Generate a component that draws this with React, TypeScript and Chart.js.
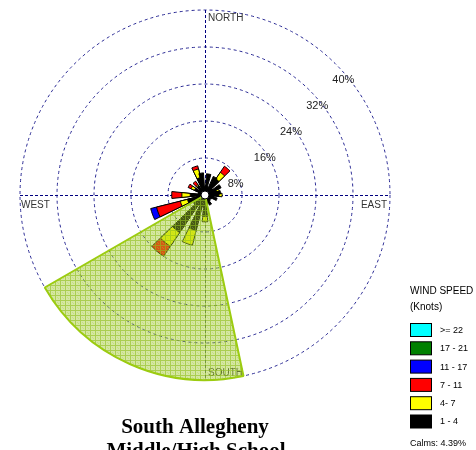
import React, { useEffect, useRef } from 'react';
import { Chart, registerables } from 'chart.js';

Chart.register(...registerables);

// Direction bins (degrees, clockwise from north), 10-degree bins
const directions = [0, 10, 20, 30, 40, 50, 60, 70, 80, 90, 100, 110, 120, 130, 140, 150, 160, 170,
  180, 190, 200, 210, 220, 230, 240, 250, 260, 270, 280, 290, 300, 310, 320, 330, 340, 350];

// Percent of time per speed class and direction
const speed1to4 = [1.8, 4.6, 1.8, 4.4, 4.2, 2.0, 3.8, 2.6, 3.4, 3.0, 2.0, 2.7, 1.6, 1.4, 1.6, 2.4, 1.8, 2.2,
  4.6, 2.5, 7.9, 2.5, 9.8, 3.0, 2.2, 3.9, 1.8, 3.2, 1.5, 1.5, 2.5, 1.5, 2.4, 1.5, 3.9, 4.8];
const speed4to7 = [0, 0, 0, 0, 1.7, 0, 0, 0.6, 0, 0.7, 0, 0, 0, 0, 0, 0, 0, 0,
  1.2, 0, 3.3, 0, 3.6, 0, 0, 1.6, 0, 1.8, 0, 0, 0.8, 0, 0.3, 0, 1.9, 0];
const speed7to11 = [0, 0, 0, 0, 1.6, 0, 0, 0, 0, 0, 0, 0, 0, 0, 0, 0, 0, 0,
  0, 0, 0, 0, 2.6, 0, 0, 5.3, 0, 2.2, 0, 0, 0.7, 0, 0.9, 0, 0.7, 0];
const speed11to17 = [0, 0, 0, 0, 0, 0, 0, 0, 0, 0, 0, 0, 0, 0, 0, 0, 0, 0,
  0, 0, 0, 0, 0, 0, 0, 1.3, 0, 0, 0, 0, 0, 0, 0, 0, 0, 0];
const speed17to21 = [0, 0, 0, 0, 0, 0, 0, 0, 0, 0, 0, 0, 0, 0, 0, 0, 0, 0,
  0, 0, 0, 0, 0, 0, 0, 0, 0, 0, 0, 0, 0, 0, 0, 0, 0, 0];
const speed22plus = [0, 0, 0, 0, 0, 0, 0, 0, 0, 0, 0, 0, 0, 0, 0, 0, 0, 0,
  0, 0, 0, 0, 0, 0, 0, 0, 0, 0, 0, 0, 0, 0, 0, 0, 0, 0];

const speedLabels = ['>= 22', '17 - 21', '11 - 17', '7 - 11', '4- 7', '1 - 4'];
const speedColors = ['#00ffff', '#008000', '#0000ff', '#ff0000', '#ffff00', '#000000'];

const ringTicks = [8, 16, 24, 32, 40];
const compassLabels = ['NORTH', 'EAST', 'SOUTH', 'WEST'];

// highlighted sector (degrees from north) and its reach (percent)
const highlightFrom = 168;
const highlightTo = 240;
const highlightReach = 40;

const calmsText = 'Calms: 4.39%';
const titleLines = ['South Allegheny', 'Middle/High School'];

const STEP = 10;      // bin spacing in degrees
const PETAL = 12;     // drawn petal width in degrees
const START = -PETAL / 2;
const SANS = '"Liberation Sans", Arial, sans-serif';

export default function App() {
  const ref = useRef<HTMLCanvasElement | null>(null);

  useEffect(() => {
    const canvas = ref.current;
    if (!canvas) return;
    const ctx = canvas.getContext('2d')!;

    // hatch pattern for the highlighted sector
    const pc = document.createElement('canvas');
    pc.width = 5;
    pc.height = 5;
    const p = pc.getContext('2d')!;
    p.fillStyle = 'rgba(160,200,45,0.44)';
    p.fillRect(0, 0, 5, 5);
    p.fillStyle = 'rgba(145,190,30,0.62)';
    p.fillRect(0, 0, 5, 1);
    p.fillRect(0, 1, 1, 4);
    p.fillStyle = 'rgba(170,210,60,0.35)';
    p.fillRect(2, 2, 1, 1);
    p.fillRect(3, 3, 1, 1);
    const pattern = ctx.createPattern(pc, 'repeat');

    const classes = [speed1to4, speed4to7, speed7to11, speed11to17, speed17to21, speed22plus];
    const classColors = ['#000000', '#ffff00', '#ff0000', '#0000ff', '#008000', '#00ffff'];

    const labels = directions.map((d) => d + '°');

    // Two interleaved groups (even / odd bins) so petals can be wider than the bin step
    const petalSets: any[] = [];
    classes.forEach((arr, ci) => {
      [0, 1].forEach((parity) => {
        const data: number[] = [];
        const isPetal: boolean[] = [];
        const angles: number[] = [];
        if (parity === 1) { data.push(0); isPetal.push(false); angles.push(STEP); }
        directions.forEach((_, k) => {
          if (k % 2 !== parity) return;
          let cum = 0;
          for (let j = 0; j <= ci; j++) cum += classes[j][k];
          data.push(arr[k] > 0 ? cum : 0);
          isPetal.push(true);
          angles.push(PETAL);
          data.push(0);
          isPetal.push(false);
          angles.push(2 * STEP - PETAL);
        });
        petalSets.push({
          data,
          backgroundColor: (c: any) => (isPetal[c.dataIndex] ? classColors[ci] : 'rgba(0,0,0,0)'),
          borderColor: '#000000',
          borderWidth: (c: any) => (isPetal[c.dataIndex] && c.raw > 0 ? 1 : 0),
          angle: (c: any) => angles[c.dataIndex],
        });
      });
    });

    const hlAngles = [highlightFrom - START, highlightTo - highlightFrom, 360 - highlightTo + START];
    const highlight = {
      data: [0, highlightReach, 0],
      backgroundColor: (c: any) => (c.dataIndex === 1 ? pattern : 'rgba(0,0,0,0)'),
      borderColor: '#9ccc10',
      borderWidth: (c: any) => (c.dataIndex === 1 ? 2 : 0),
      angle: (c: any) => hlAngles[c.dataIndex],
    };

    const decor = {
      id: 'decor',
      beforeDatasetsDraw(chart: any) {
        const s = chart.scales.r;
        const c = chart.ctx;
        const cx = s.xCenter;
        const cy = s.yCenter;
        const R = s.getDistanceFromCenterForValue(40);
        c.save();
        // compass axes
        c.strokeStyle = '#000080';
        c.lineWidth = 1;
        c.setLineDash([3, 2]);
        c.beginPath();
        c.moveTo(cx + 0.5, cy - R);
        c.lineTo(cx + 0.5, cy + R);
        c.moveTo(cx - R, cy + 0.5);
        c.lineTo(cx + R, cy + 0.5);
        c.stroke();
        c.setLineDash([]);
        // ring labels
        c.font = '11px ' + SANS;
        c.fillStyle = '#222222';
        c.textAlign = 'left';
        c.textBaseline = 'middle';
        ringTicks.forEach((v) => {
          const r = s.getDistanceFromCenterForValue(v);
          c.fillText(v + '%', cx + r * Math.SQRT1_2 - 3.5, cy - r * Math.SQRT1_2 + 15.5);
        });
        c.font = '10px ' + SANS;
        c.fillStyle = '#333333';
        c.fillText(compassLabels[0], cx + 3, cy - R + 8);
        c.fillText(compassLabels[2], cx + 3, cy + R - 7);
        c.fillText(compassLabels[3], cx - R + 1, cy + 10);
        c.textAlign = 'right';
        c.fillText(compassLabels[1], cx + R - 3, cy + 10);
        c.restore();
      },
      afterDatasetsDraw(chart: any) {
        const s = chart.scales.r;
        const c = chart.ctx;
        c.save();
        c.beginPath();
        c.arc(s.xCenter, s.yCenter, 4, 0, Math.PI * 2);
        c.fillStyle = '#ffffff';
        c.fill();
        c.lineWidth = 1;
        c.strokeStyle = '#000000';
        c.stroke();
        c.restore();
      },
      afterDraw(chart: any) {
        const c = chart.ctx;
        c.save();
        // legend
        c.fillStyle = '#000000';
        c.font = '10px ' + SANS;
        c.textAlign = 'left';
        c.textBaseline = 'middle';
        c.fillText('WIND SPEED', 410, 291);
        c.fillText('(Knots)', 410, 307);
        speedLabels.forEach((lab, i) => {
          const y = 323 + i * 18.3;
          c.fillStyle = speedColors[i];
          c.fillRect(410.5, y + 0.5, 21, 13);
          c.strokeStyle = '#000000';
          c.lineWidth = 1;
          c.strokeRect(410.5, y + 0.5, 21, 13);
          c.fillStyle = '#000000';
          c.font = '9px ' + SANS;
          c.fillText(lab, 440, y + 7.5);
        });
        c.font = '9px ' + SANS;
        c.fillText(calmsText, 410, 444);
        // title
        c.font = 'bold 21px "Liberation Serif", "Times New Roman", serif';
        c.textAlign = 'center';
        c.textBaseline = 'alphabetic';
        c.fillText(titleLines[0], 195, 433);
        c.fillText(titleLines[1], 196, 457);
        c.restore();
      },
    };

    const chart = new Chart(ctx, {
      type: 'polarArea',
      data: {
        labels,
        datasets: [highlight, ...petalSets] as any,
      },
      options: {
        responsive: false,
        animation: false,
        events: [],
        layout: { padding: { left: 20, top: 10, right: 86, bottom: 70 } },
        plugins: { legend: { display: false }, tooltip: { enabled: false } },
        scales: {
          r: {
            min: 0,
            max: 40,
            startAngle: START,
            ticks: { display: false, stepSize: 8 },
            grid: { circular: true, color: '#2a2a94', lineWidth: 1 },
            border: { dash: [3, 3] },
            angleLines: { display: false },
            pointLabels: { display: false },
          },
        },
      } as any,
      plugins: [decor],
    });

    return () => chart.destroy();
  }, []);

  return (
    <div style={{ position: 'fixed', left: 0, top: 0, width: 476, height: 450, background: '#fff' }}>
      <canvas ref={ref} width={476} height={450} />
    </div>
  );
}
